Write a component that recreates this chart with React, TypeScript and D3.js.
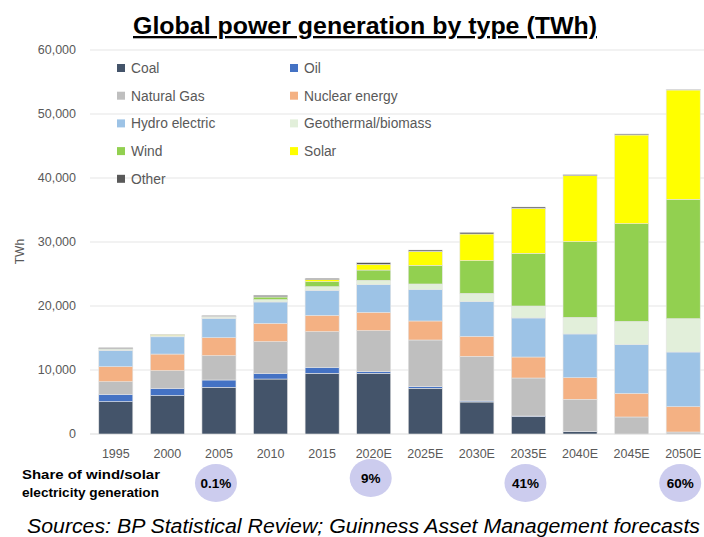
import React, { useRef, useEffect } from 'react';
import * as d3 from 'd3';

const years = ['1995', '2000', '2005', '2010', '2015', '2020E', '2025E', '2030E', '2035E', '2040E', '2045E', '2050E'];

const coal = [5050, 5990, 7290, 8590, 9480, 9480, 7140, 5000, 2710, 360, 0, 0];
const oil = [1150, 1150, 1150, 890, 940, 260, 260, 160, 100, 50, 0, 0];
const naturalGas = [1970, 2750, 3800, 4950, 5570, 6410, 7290, 6970, 5940, 5010, 2660, 310];
const nuclear = [2350, 2600, 2810, 2860, 2550, 2860, 2970, 3130, 3280, 3380, 3690, 3960];
const hydro = [2550, 2700, 3020, 3340, 3910, 4320, 4890, 5420, 6100, 6830, 7610, 8540];
const geothermal = [200, 200, 220, 360, 570, 680, 890, 1300, 1870, 2600, 3640, 5210];
const wind = [40, 40, 100, 420, 780, 1610, 2910, 5100, 8230, 11820, 15260, 18650];
const solar = [30, 110, 10, 30, 310, 890, 2190, 4170, 7030, 10310, 13860, 17080];
const other = [140, 20, 110, 240, 220, 260, 210, 260, 210, 160, 160, 110];

const seriesNames = ['Coal', 'Oil', 'Natural Gas', 'Nuclear energy', 'Hydro electric', 'Geothermal/biomass', 'Wind', 'Solar', 'Other'];
const seriesValues = [coal, oil, naturalGas, nuclear, hydro, geothermal, wind, solar, other];
const seriesColors = ['#44546a', '#4472c4', '#bfbfbf', '#f4b183', '#9dc3e6', '#e2efda', '#92d050', '#ffff00', '#595959'];

const yTicks = [0, 10000, 20000, 30000, 40000, 50000, 60000];

const shareYears = ['2005', '2020E', '2035E', '2050E'];
const shareLabels = ['0.1%', '9%', '41%', '60%'];

const W = 704;
const H = 537;

export default function App() {
  const svgRef = useRef<SVGSVGElement>(null);

  useEffect(() => {
    const svg = d3.select(svgRef.current);
    svg.selectAll('*').remove();

    const font = 'Liberation Sans, Arial, sans-serif';
    const left = 90;
    const right = 704;

    const x = d3.scaleBand<string>()
      .domain(years)
      .range([90, 709])
      .paddingInner(0.34)
      .paddingOuter(0.17);

    const y = d3.scaleLinear().domain([0, 60000]).range([434, 50]);

    // table for the stack
    const rows = years.map((yr, i) => {
      const r: any = { year: yr };
      seriesNames.forEach((n, j) => { r[n] = seriesValues[j][i]; });
      return r;
    });
    const stacked = d3.stack().keys(seriesNames)(rows);

    // Title
    svg.append('text')
      .attr('x', 133)
      .attr('y', 34)
      .attr('font-family', font)
      .attr('font-weight', 'bold')
      .attr('font-size', 23)
      .attr('textLength', 464)
      .attr('lengthAdjust', 'spacingAndGlyphs')
      .attr('text-decoration', 'underline')
      .attr('fill', '#000')
      .text('Global power generation by type (TWh)');

    // Gridlines
    svg.append('g')
      .selectAll('line')
      .data(yTicks)
      .join('line')
      .attr('x1', left)
      .attr('x2', right)
      .attr('y1', d => y(d))
      .attr('y2', d => y(d))
      .attr('stroke', d => (d === 0 ? '#d9d9d9' : '#e6e6e6'))
      .attr('stroke-width', 1.2);

    // y axis labels
    svg.append('g')
      .selectAll('text')
      .data(yTicks)
      .join('text')
      .attr('x', 76)
      .attr('y', d => y(d))
      .attr('dy', '0.35em')
      .attr('text-anchor', 'end')
      .attr('font-family', font)
      .attr('font-size', 12.5)
      .attr('fill', '#595959')
      .text(d => d3.format(',')(d));

    svg.append('text')
      .attr('transform', `translate(24,${y(28500)}) rotate(-90)`)
      .attr('text-anchor', 'middle')
      .attr('font-family', font)
      .attr('font-size', 12)
      .attr('fill', '#595959')
      .text('TWh');

    // x axis labels
    svg.append('g')
      .selectAll('text')
      .data(years)
      .join('text')
      .attr('x', d => x(d)! + x.bandwidth() / 2)
      .attr('y', 458)
      .attr('text-anchor', 'middle')
      .attr('font-family', font)
      .attr('font-size', 12.5)
      .attr('fill', '#595959')
      .text(d => d);

    // Bars
    svg.append('g')
      .selectAll('g')
      .data(stacked)
      .join('g')
      .attr('fill', (d, i) => seriesColors[i])
      .selectAll('rect')
      .data(d => d)
      .join('rect')
      .attr('x', d => x(d.data.year as any)!)
      .attr('width', x.bandwidth())
      .attr('y', d => y(d[1]))
      .attr('height', d => Math.max(0, y(d[0]) - y(d[1])))
      .attr('stroke', '#e4e4e4')
      .attr('stroke-width', 0.6);

    // Legend
    const legend = svg.append('g');
    seriesNames.forEach((name, i) => {
      const col = i % 2;
      const row = Math.floor(i / 2);
      const lx = col === 0 ? 117 : 290;
      const ly = 68 + row * 27.7;
      legend.append('rect')
        .attr('x', lx)
        .attr('y', ly - 4)
        .attr('width', 8)
        .attr('height', 8)
        .attr('fill', seriesColors[i]);
      legend.append('text')
        .attr('x', lx + 14)
        .attr('y', ly)
        .attr('dy', '0.35em')
        .attr('font-family', font)
        .attr('font-size', 13.8)
        .attr('fill', '#595959')
        .text(name);
    });

    // Share of wind/solar
    svg.append('text')
      .attr('x', 22)
      .attr('y', 479)
      .attr('font-family', font)
      .attr('font-weight', 'bold')
      .attr('font-size', 13)
      .attr('textLength', 138)
      .attr('lengthAdjust', 'spacingAndGlyphs')
      .attr('fill', '#000')
      .text('Share of wind/solar');
    svg.append('text')
      .attr('x', 22)
      .attr('y', 497)
      .attr('font-family', font)
      .attr('font-weight', 'bold')
      .attr('font-size', 13)
      .attr('textLength', 137)
      .attr('lengthAdjust', 'spacingAndGlyphs')
      .attr('fill', '#000')
      .text('electricity generation');

    const share = svg.append('g')
      .selectAll('g')
      .data(shareYears)
      .join('g')
      .attr('transform', d => `translate(${x(d)! + x.bandwidth() / 2 - 3},${d === '2020E' ? 478 : 483})`);
    share.append('ellipse')
      .attr('rx', 21)
      .attr('ry', 19)
      .attr('fill', '#ccccee');
    share.append('text')
      .attr('text-anchor', 'middle')
      .attr('dy', '0.35em')
      .attr('font-family', font)
      .attr('font-weight', 'bold')
      .attr('font-size', 13.5)
      .attr('fill', '#000')
      .text((d, i) => shareLabels[i]);

    // Footer
    svg.append('text')
      .attr('x', 27)
      .attr('y', 533)
      .attr('font-family', font)
      .attr('font-style', 'italic')
      .attr('font-size', 20)
      .attr('textLength', 673)
      .attr('lengthAdjust', 'spacingAndGlyphs')
      .attr('fill', '#000')
      .text('Sources: BP Statistical Review; Guinness Asset Management forecasts');
  }, []);

  return (
    <svg
      ref={svgRef}
      width={W}
      height={H}
      viewBox={`0 0 ${W} ${H}`}
      style={{ position: 'absolute', left: 0, top: 0, background: '#fff', display: 'block' }}
    />
  );
}
